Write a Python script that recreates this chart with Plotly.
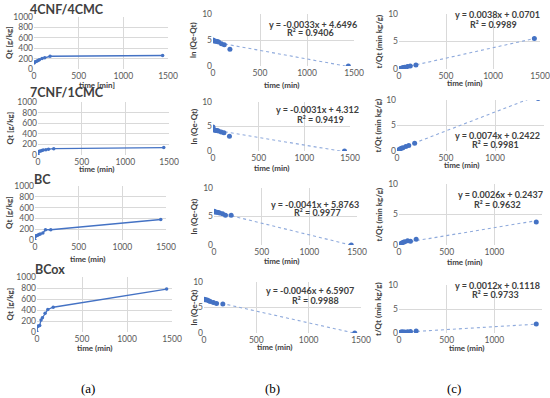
import plotly.graph_objects as go

W, H = 550, 398

times = [0, 5, 15, 30, 45, 60, 90, 120, 180, 1440]

# column (a): Qt
qt_4cnf = [115, 130, 140, 150, 165, 180, 200, 215, 245, 260]
qt_7cnf = [20, 60, 70, 75, 85, 95, 100, 110, 120, 140]
qt_bc = [0, 70, 80, 90, 100, 110, 130, 190, 190, 380]
qt_bcox = [0, 100, 110, 120, 220, 260, 340, 410, 450, 780]

# column (b): ln(Qe-Qt)
ln_4cnf = [5.0, 4.9, 4.8, 4.75, 4.7, 4.6, 4.3, 4.1, 3.2, 0.0]
ln_7cnf = [4.9, 4.4, 4.3, 4.2, 4.2, 4.1, 3.9, 3.7, 3.0, 0.0]
ln_bc = [5.9, 5.85, 5.8, 5.75, 5.7, 5.6, 5.5, 5.2, 5.2, 0.0]
ln_bcox = [6.6, 6.55, 6.5, 6.45, 6.3, 6.2, 6.0, 5.8, 5.7, 0.0]

# column (c): t/Qt
tq_4cnf = [0.0, 0.04, 0.11, 0.2, 0.27, 0.33, 0.45, 0.56, 0.73, 5.54]
tq_7cnf = [0.0, 0.08, 0.21, 0.4, 0.53, 0.63, 0.9, 1.09, 1.5, 10.3]
tq_bc = [0.0, 0.07, 0.19, 0.33, 0.45, 0.55, 0.69, 0.63, 0.95, 3.79]
tq_bcox = [0.0, 0.05, 0.14, 0.25, 0.2, 0.23, 0.26, 0.29, 0.4, 1.85]

titles = ["4CNF/4CMC", "7CNF/1CMC", "BC", "BCox"]
b_slopes = [-0.0033, -0.0031, -0.0041, -0.0046]
b_inter = [4.6496, 4.312, 5.8763, 6.5907]
b_r2 = ["0.9406", "0.9419", "0.9977", "0.9988"]
c_slopes = [0.0038, 0.0074, 0.0026, 0.0012]
c_inter = [0.0701, 0.2422, 0.2437, 0.1118]
c_r2 = ["0.9989", "0.9981", "0.9632", "0.9733"]
x_ticks = [0, 500, 1000, 1500]
a_ticks = [0, 200, 400, 600, 800, 1000]
bc_ticks = [0, 5, 10]

# plot-area boxes in pixels: (x0, x1, ytop, ybottom)
boxes = {
    "a": [(34, 168, 17, 69), (38, 169, 102, 155), (35, 166, 186, 240), (37, 172, 277, 332)],
    "b": [(213, 354, 14, 66), (213, 350, 102, 151), (214, 357, 188, 245), (204, 361, 282, 333)],
    "c": [(399, 540, 14, 69), (397, 544, 100, 151), (399, 542, 184, 245), (399, 542, 285, 333)],
}

BLUE = "#4472C4"
TREND = "#8FAADC"
GRID = "#D9D9D9"
TICK = "#595959"
FONT = "Lato"

def px(x):
    return x / W

def py(y):
    return 1 - y / H

def ann(x, y, text, size=8, color="#404040", family=FONT, xanchor="center", angle=0):
    return dict(x=px(x), y=py(y), xref="paper", yref="paper", text=text,
                showarrow=False, xanchor=xanchor, yanchor="middle", textangle=angle,
                font=dict(size=size, color=color, family=family))

fig = go.Figure()
layout = {}
annotations = []
idx = 0

a_data = [qt_4cnf, qt_7cnf, qt_bc, qt_bcox]
b_data = [ln_4cnf, ln_7cnf, ln_bc, ln_bcox]
c_data = [tq_4cnf, tq_7cnf, tq_bc, tq_bcox]

xtitle_pos = {
    "a": [(97, 85, "time [min]"), (97, 169, "time (min)"), (88, 259, "time (min)"), (95, 348, "time (min)")],
    "b": [(282, 85, "time (min)"), (272, 168, "time (min)"), (282, 261, "time (min)"), (275, 347, "time (min)")],
    "c": [(465, 83, "time (min)"), (462, 165, "time (min)"), (465, 262, "time (min)"), (467, 348, "time (min)")],
}
ytitle = {"a": ("Qt [g/kg]", 9), "b": ("ln (Qe-Qt)", 193), "c": ("t/Qt (min kg/g)", 378)}
eq_pos = {
    "b": [(313, 24, 310, 33), (317, 110, 320, 119), (315, 204, 317, 212), (310, 290, 315, 300)],
    "c": [(498, 15, 493, 25), (498, 135, 495, 144), (500, 194, 497, 204), (498, 285, 495, 294)],
}
title_pos = [(28, 9), (28, 92), (32, 180), (33, 269)]

for col in ["a", "b", "c"]:
    for r in range(4):
        idx += 1
        sx = "" if idx == 1 else str(idx)
        xa, ya = "x" + sx, "y" + sx
        x0, x1, yt, yb = boxes[col][r]
        if col == "a":
            yr, yt_vals = [0, 1000], a_ticks
        else:
            yr, yt_vals = [0, 10], bc_ticks
        layout["xaxis" + sx] = dict(
            domain=[px(x0), px(x1)], range=[0, 1500], anchor=ya, automargin=False,
            tickvals=x_ticks, showgrid=True, gridcolor=GRID, gridwidth=1,
            zeroline=False, showline=False, ticks="",
            tickfont=dict(size=8.5, color=TICK, family=FONT),
        )
        layout["yaxis" + sx] = dict(
            domain=[py(yb), py(yt)], range=yr, anchor=xa, automargin=False,
            tickvals=yt_vals, showgrid=True, gridcolor=GRID, gridwidth=1,
            zeroline=False, showline=False, ticks="",
            tickfont=dict(size=8.5, color=TICK, family=FONT),
        )
        if col == "a":
            fig.add_trace(go.Scatter(
                x=times, y=a_data[r], xaxis=xa, yaxis=ya, mode="lines+markers",
                line=dict(color=BLUE, width=1.3), marker=dict(color=BLUE, size=3.5),
                cliponaxis=True, showlegend=False))
        else:
            data = b_data[r] if col == "b" else c_data[r]
            m = b_slopes[r] if col == "b" else c_slopes[r]
            c0 = b_inter[r] if col == "b" else c_inter[r]
            r2 = b_r2[r] if col == "b" else c_r2[r]
            trend_x = [times[0], times[-1]]
            trend_y = [m * t + c0 for t in trend_x]
            fig.add_trace(go.Scatter(
                x=trend_x, y=trend_y, xaxis=xa, yaxis=ya, mode="lines",
                line=dict(color=TREND, width=1.1, dash="dot"), showlegend=False))
            fig.add_trace(go.Scatter(
                x=times, y=data, xaxis=xa, yaxis=ya, mode="markers",
                marker=dict(color=BLUE, size=5), cliponaxis=True, showlegend=False))
            ex, ey, rx, ry = eq_pos[col][r]
            eq = f"y = {m}x + {c0}"
            annotations.append(ann(ex, ey, f"<b>{eq}</b>", size=9))
            annotations.append(ann(rx, ry, f"<b>R² = {r2}</b>", size=9))
        tx, ty, tt = xtitle_pos[col][r]
        annotations.append(ann(tx, ty, f"<b>{tt}</b>"))
        ylab, ylx = ytitle[col]
        annotations.append(ann(ylx, (yt + yb) / 2, f"<b>{ylab}</b>", angle=-90))
        if col == "a":
            tx0, ty0 = title_pos[r]
            annotations.append(ann(tx0, ty0, f"<b>{titles[r]}</b>", size=12.5, xanchor="left"))

for lab, lx in [("(a)", 88), ("(b)", 272), ("(c)", 454)]:
    annotations.append(ann(lx, 388, lab, size=13, color="#000000", family="Liberation Serif"))

fig.update_layout(
    width=W, height=H, margin=dict(l=0, r=0, t=0, b=0),
    paper_bgcolor="white", plot_bgcolor="white",
    annotations=annotations, **layout,
)

fig.write_html("out.html", config={"displayModeBar": False},
               post_script="document.body.style.margin='0';document.body.style.overflow='hidden';")
